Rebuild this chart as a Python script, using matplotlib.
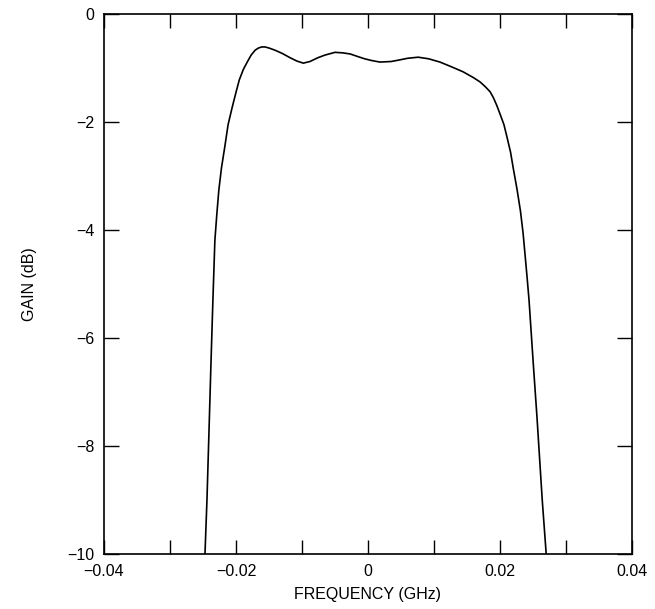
import matplotlib
matplotlib.use("Agg")
import matplotlib.pyplot as plt
from matplotlib.ticker import MultipleLocator

plt.rcParams['font.family'] = ['Liberation Sans', 'DejaVu Sans']

freq = [-0.0247, -0.0244, -0.0241, -0.0238, -0.0235, -0.0232, -0.0229, -0.0226,
        -0.0222, -0.0217, -0.0212,
        -0.0206, -0.0200, -0.0195, -0.0189, -0.0183, -0.0177, -0.0171, -0.0166,
        -0.0161, -0.0156, -0.0150, -0.0141, -0.0130, -0.0118, -0.0108, -0.0098,
        -0.0088, -0.0076, -0.0065, -0.0050, -0.0038, -0.0027, -0.0015, -0.0005,
        0.0005, 0.0018, 0.0035, 0.0048, 0.0060, 0.0076, 0.0092, 0.0109,
        0.0125, 0.0144, 0.0160, 0.0170, 0.0178, 0.0185, 0.0190, 0.0195,
        0.0200, 0.0206, 0.0211, 0.0216, 0.0220, 0.0226, 0.0231, 0.0235, 0.0241,
        0.0244, 0.0250, 0.0256, 0.0264, 0.0270]
gain = [-10.0, -9.0, -7.76, -6.5, -5.3, -4.19, -3.7, -3.26,
        -2.85, -2.46, -2.05,
        -1.74, -1.45, -1.22, -1.03, -0.89, -0.76, -0.67, -0.63,
        -0.61, -0.61, -0.63, -0.67, -0.73, -0.81, -0.87, -0.91,
        -0.88, -0.81, -0.76, -0.71, -0.72, -0.74, -0.79, -0.83,
        -0.86, -0.89, -0.88, -0.85, -0.82, -0.80, -0.83, -0.89,
        -0.97, -1.07, -1.18, -1.26, -1.35, -1.44, -1.55, -1.69,
        -1.85, -2.05, -2.30, -2.56, -2.85, -3.26, -3.65, -4.06, -4.87,
        -5.30, -6.40, -7.46, -9.0, -10.0]

xticks = [-0.04, -0.02, 0, 0.02, 0.04]
xticklabels = ['\u22120.04', '\u22120.02', '0', '0.02', '0.04']
yticks = [0, -2, -4, -6, -8, -10]
yticklabels = ['0', '\u22122', '\u22124', '\u22126', '\u22128', '\u221210']

fig = plt.figure(figsize=(6.55, 6.09), dpi=100)
ax = fig.add_axes([104/655, 1-554/609, (632-104)/655, (554-14)/609])

ax.plot(freq, gain, color='black', lw=1.2, solid_joinstyle='round')

ax.set_xlim(-0.04, 0.04)
ax.set_ylim(-10, 0)
ax.set_xticks(xticks)
ax.set_xticklabels(xticklabels)
ax.xaxis.set_minor_locator(MultipleLocator(0.01))
ax.set_yticks(yticks)
ax.set_yticklabels(yticklabels)

ax.tick_params(axis='both', which='both', direction='in', top=True, right=True,
               color='black', width=1.0)
ax.tick_params(axis='x', which='major', length=10, pad=7, labelsize=11.5)
ax.tick_params(axis='x', which='minor', length=10)
ax.tick_params(axis='y', which='major', length=11, pad=7, labelsize=11.5)

for s in ax.spines.values():
    s.set_linewidth(1.2)
    s.set_color('black')

ax.set_xlabel('FREQUENCY (GHz)', fontsize=11.5, labelpad=6)
ax.set_ylabel('GAIN (dB)', fontsize=11.5, labelpad=22)

fig.savefig('out.png', dpi=100)
